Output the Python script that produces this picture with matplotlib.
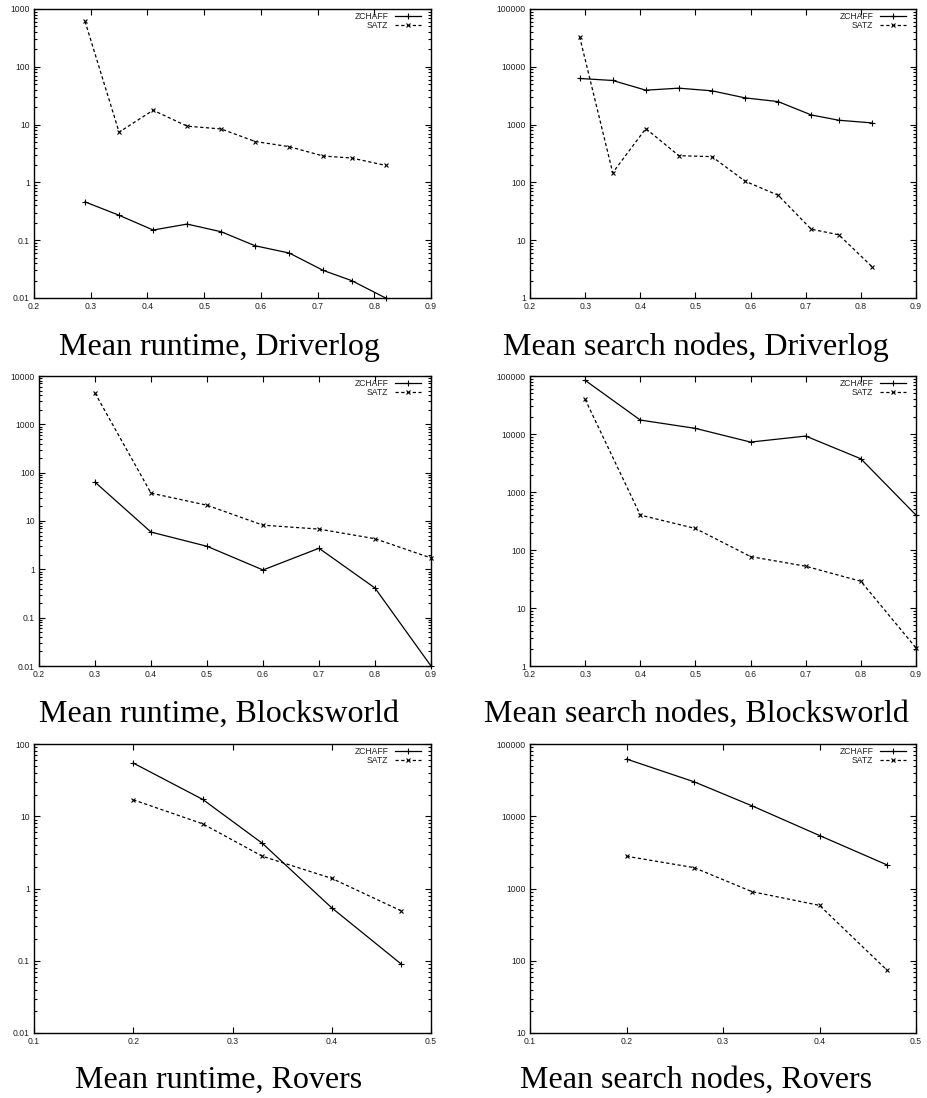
import matplotlib
matplotlib.use("Agg")
import matplotlib.pyplot as plt
from matplotlib.ticker import FuncFormatter, LogLocator, NullFormatter

# ---------------- data ----------------
drv_x = [0.29, 0.35, 0.41, 0.47, 0.53, 0.59, 0.65, 0.71, 0.76, 0.82]
drv_rt_zchaff = [0.46, 0.27, 0.15, 0.19, 0.14, 0.08, 0.06, 0.03, 0.02, 0.01]
drv_rt_satz = [611, 7.4, 17.7, 9.4, 8.4, 5.1, 4.15, 2.86, 2.64, 1.97]
drv_nd_zchaff = [6280, 5800, 3940, 4270, 3840, 2900, 2500, 1470, 1190, 1070]
drv_nd_satz = [33100, 147, 853, 290, 279, 105, 60, 15.5, 12.4, 3.5]

blk_x = [0.3, 0.4, 0.5, 0.6, 0.7, 0.8, 0.9]
blk_rt_zchaff = [63.7, 5.9, 3.0, 0.97, 2.73, 0.41, 0.01]
blk_rt_satz = [4440, 37.7, 21.2, 8.2, 6.8, 4.3, 1.72]
blk_nd_zchaff = [84200, 17400, 12500, 7260, 9210, 3740, 400]
blk_nd_satz = [39600, 400, 235, 77, 52.5, 28.9, 2.05]

rov_x = [0.2, 0.27, 0.33, 0.4, 0.47]
rov_rt_zchaff = [54.5, 17.1, 4.23, 0.54, 0.09]
rov_rt_satz = [16.9, 7.85, 2.8, 1.38, 0.49]
rov_nd_zchaff = [61900, 30000, 13950, 5410, 2120]
rov_nd_satz = [2795, 1945, 904, 584, 74]

series_names = ["ZCHAFF", "SATZ"]
captions = ["Mean runtime, Driverlog", "Mean search nodes, Driverlog",
            "Mean runtime, Blocksworld", "Mean search nodes, Blocksworld",
            "Mean runtime, Rovers", "Mean search nodes, Rovers"]
xticks_drv = [0.2, 0.3, 0.4, 0.5, 0.6, 0.7, 0.8, 0.9]
xticks_rov = [0.1, 0.2, 0.3, 0.4, 0.5]
ylims = [(0.01, 1000), (1, 100000), (0.01, 10000), (1, 100000), (0.01, 100), (10, 100000)]

panels = [
    (drv_x, drv_rt_zchaff, drv_rt_satz, xticks_drv),
    (drv_x, drv_nd_zchaff, drv_nd_satz, xticks_drv),
    (blk_x, blk_rt_zchaff, blk_rt_satz, xticks_drv),
    (blk_x, blk_nd_zchaff, blk_nd_satz, xticks_drv),
    (rov_x, rov_rt_zchaff, rov_rt_satz, xticks_rov),
    (rov_x, rov_nd_zchaff, rov_nd_satz, xticks_rov),
]

# ---------------- layout ----------------
W, H = 927, 1098
boxes_px = [(34, 431, 9, 298), (530, 916, 9, 298),
            (39, 431, 376, 666), (530, 916, 376, 666),
            (34, 431, 744, 1033), (530, 916, 744, 1033)]
cap_px = [(219, 355), (696, 355), (219, 722), (696, 722), (219, 1088), (696, 1088)]

plt.rcParams['font.family'] = ['Liberation Sans', 'DejaVu Sans']
fig = plt.figure(figsize=(W / 100, H / 100), dpi=100)
fig.patch.set_facecolor("white")

tick_fs = 6.2
tcol = "#222222"

for i, (xs, z, s, xt) in enumerate(panels):
    L, R, T, B = boxes_px[i]
    ax = fig.add_axes([L / W, 1 - B / H, (R - L) / W, (B - T) / H])
    ax.set_yscale("log")
    ax.set_xlim(xt[0], xt[-1])
    ax.set_ylim(*ylims[i])
    ax.plot(xs, z, color="black", lw=0.9, ls="-", marker="+", ms=4.5, mew=0.8,
            clip_on=False, label=series_names[0])
    ax.plot(xs, s, color="black", lw=0.9, ls=(0, (2.6, 2.0)), marker="x", ms=3.5, mew=0.8,
            clip_on=False, label=series_names[1])
    ax.set_xticks(xt)
    ax.xaxis.set_major_formatter(FuncFormatter(lambda v, p: "%g" % v))
    ax.yaxis.set_major_locator(LogLocator(base=10, numticks=20))
    ax.yaxis.set_minor_locator(LogLocator(base=10, subs=range(2, 10), numticks=20))
    ax.yaxis.set_major_formatter(FuncFormatter(lambda v, p: "%g" % v))
    ax.yaxis.set_minor_formatter(NullFormatter())
    ax.tick_params(which="both", direction="in", top=True, right=True,
                   labelsize=tick_fs, labelcolor=tcol, width=0.8)
    ax.tick_params(which="major", length=4, pad=3)
    ax.tick_params(which="minor", length=2)
    for sp in ax.spines.values():
        sp.set_linewidth(1.0)
    axw = R - L
    axh = B - T
    leg = ax.legend(loc="upper right", markerfirst=False, frameon=False,
                    fontsize=tick_fs, handlelength=3.0, handletextpad=0.8,
                    labelspacing=0.0, borderpad=0.0, borderaxespad=0.0,
                    bbox_to_anchor=(1 - 10 / axw, 1 - 3 / axh))
    for t in leg.get_texts():
        t.set_color(tcol)
    cx, cy = cap_px[i]
    fig.text(cx / W, 1 - cy / H, captions[i], ha="center", va="baseline",
             family=["Liberation Serif", "DejaVu Serif"], fontsize=23)

fig.savefig("out.png", dpi=100, facecolor="white")
